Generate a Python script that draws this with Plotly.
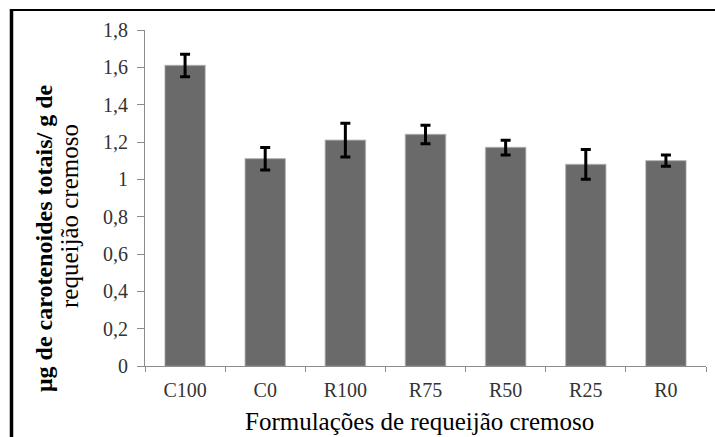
import plotly.graph_objects as go

categories = ["C100", "C0", "R100", "R75", "R50", "R25", "R0"]
values = [1.61, 1.11, 1.21, 1.24, 1.17, 1.08, 1.10]
errors = [0.06, 0.06, 0.09, 0.05, 0.04, 0.08, 0.03]
ytick_vals = [0, 0.2, 0.4, 0.6, 0.8, 1.0, 1.2, 1.4, 1.6, 1.8]
ytick_text = ["0", "0,2", "0,4", "0,6", "0,8", "1", "1,2", "1,4", "1,6", "1,8"]
x_title = "Formulações de requeijão cremoso"
y_title_1 = "μg de carotenoides totais/ g de"
y_title_2 = "requeijão cremoso"

W, H = 715, 437
L, R, T, B = 145, 9, 30, 71
pw = W - L - R
ph = H - T - B

def px_x(x):
    return (x - L) / pw

def px_y(y):
    return (H - B - y) / ph

font = "Liberation Serif"

fig = go.Figure()
fig.add_trace(go.Bar(
    x=categories, y=values,
    marker=dict(color="#6a6a6a", line=dict(color="rgba(150,150,150,0.5)", width=1.5)),
    error_y=dict(type="data", array=errors, color="black", thickness=3, width=5),
    width=0.5,
))

fig.update_layout(
    width=W, height=H,
    margin=dict(l=L, r=R, t=T, b=B),
    plot_bgcolor="white", paper_bgcolor="white",
    showlegend=False,
    font=dict(family=font, color="#222"),
    xaxis=dict(
        showline=True, linecolor="#8c8c8c", linewidth=1,
        ticks="outside", tickson="boundaries", ticklen=5, tickcolor="#8c8c8c",
        tickfont=dict(size=20, family=font, color="#333"),
        ticklabelstandoff=6,
        showgrid=False, zeroline=False,
    ),
    yaxis=dict(
        range=[0, 1.8],
        tickvals=ytick_vals, ticktext=ytick_text,
        showline=True, linecolor="#8c8c8c", linewidth=1,
        ticks="outside", ticklen=7, tickcolor="#8c8c8c",
        tickfont=dict(size=20, family=font, color="#333"),
        ticklabelstandoff=5,
        showgrid=False, zeroline=False,
    ),
    annotations=[
        dict(text=x_title, xref="paper", yref="paper",
             x=px_x(419), y=px_y(421), xanchor="center", yanchor="middle",
             showarrow=False, font=dict(size=25, family=font, color="black")),
        dict(text="<b>" + y_title_1 + "</b>", xref="paper", yref="paper",
             x=px_x(44), y=px_y(239), xanchor="center", yanchor="middle",
             textangle=-90, showarrow=False,
             font=dict(size=24, family=font, color="black")),
        dict(text=y_title_2, xref="paper", yref="paper",
             x=px_x(69), y=px_y(216), xanchor="center", yanchor="middle",
             textangle=-90, showarrow=False,
             font=dict(size=25, family=font, color="black")),
    ],
    shapes=[
        dict(type="line", xref="paper", yref="paper",
             x0=px_x(11.5), x1=px_x(716), y0=px_y(10), y1=px_y(10),
             line=dict(color="black", width=2)),
        dict(type="line", xref="paper", yref="paper",
             x0=px_x(11.5), x1=px_x(11.5), y0=px_y(9), y1=px_y(440),
             line=dict(color="black", width=3.5)),
    ],
)

fig.write_html("out.html")
